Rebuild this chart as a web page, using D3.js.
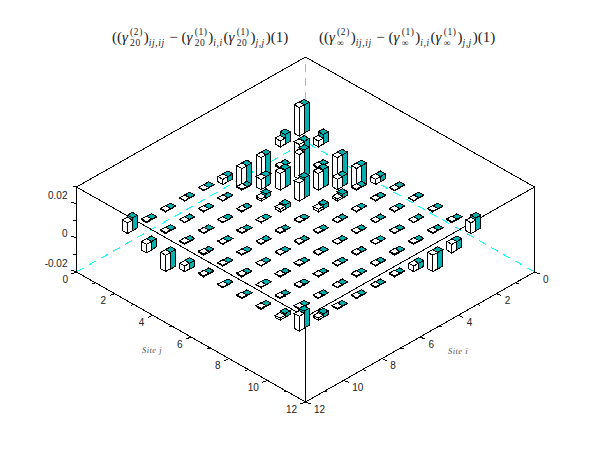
<!DOCTYPE html>
<html>
<head>
<meta charset="utf-8">
<script src="https://cdnjs.cloudflare.com/ajax/libs/d3/7.8.5/d3.min.js"></script>
<style>
  body { margin: 0; background: #fff; }
  text { font-family: "Liberation Sans", sans-serif; }
  .ticklabel { font-size: 10px; fill: #222; }
  .sitelabel { font-family: "Liberation Serif", serif; font-style: italic; font-size: 8.5px; fill: #555; letter-spacing: 0.5px; }
  .formula text { font-family: "Liberation Serif", serif; fill: #222; }
</style>
</head>
<body>
<svg id="chart" width="610" height="460"></svg>
<script>
// *** DATA ***
var sites = [1, 2, 3, 4, 5, 6, 7, 8, 9, 10];

// white bars, row = site i, column = site j
var gamma20 = [
  [ 0.0168,  0.0035, -0.0135, -0.0125, -0.0030, -0.0003,  0.0003,  0.0004,  0.0006,  0.0063],
  [ 0.0035,  0.0078,  0.0006, -0.0060,  0.0006,  0.0003,  0.0004,  0.0003,  0.0005, -0.0050],
  [-0.0135,  0.0006,  0.0145,  0.0098,  0.0012,  0.0004,  0.0003,  0.0004,  0.0006, -0.0096],
  [-0.0125, -0.0060,  0.0098,  0.0105,  0.0015,  0.0003,  0.0004,  0.0003,  0.0007, -0.0033],
  [-0.0030,  0.0006,  0.0012,  0.0015,  0.0004,  0.0005,  0.0003,  0.0005,  0.0004,  0.0006],
  [-0.0003,  0.0003,  0.0004,  0.0003,  0.0005,  0.0005,  0.0004,  0.0003,  0.0005,  0.0004],
  [ 0.0003,  0.0004,  0.0003,  0.0004,  0.0003,  0.0004,  0.0005,  0.0004,  0.0003,  0.0005],
  [ 0.0004,  0.0003,  0.0004,  0.0003,  0.0005,  0.0003,  0.0004,  0.0005,  0.0004,  0.0006],
  [ 0.0006,  0.0005,  0.0006,  0.0007,  0.0004,  0.0005,  0.0003,  0.0004,  0.0006,  0.0012],
  [ 0.0063, -0.0050, -0.0096, -0.0033,  0.0006,  0.0004,  0.0005,  0.0006,  0.0012,  0.0087]
];

// teal bars, same layout
var gammaInf = [
  [ 0.0165,  0.0056, -0.0140, -0.0125, -0.0030, -0.0002,  0.0002,  0.0002,  0.0003,  0.0075],
  [ 0.0056,  0.0080,  0.0003, -0.0058,  0.0003,  0.0002,  0.0002,  0.0002,  0.0003, -0.0048],
  [-0.0140,  0.0003,  0.0155,  0.0105,  0.0023,  0.0002,  0.0002,  0.0002,  0.0003, -0.0098],
  [-0.0125, -0.0058,  0.0105,  0.0118,  0.0023,  0.0002,  0.0002,  0.0002,  0.0003, -0.0035],
  [-0.0030,  0.0003,  0.0023,  0.0023,  0.0002,  0.0002,  0.0002,  0.0002,  0.0002,  0.0003],
  [-0.0002,  0.0002,  0.0002,  0.0002,  0.0002,  0.0002,  0.0002,  0.0002,  0.0002,  0.0002],
  [ 0.0002,  0.0002,  0.0002,  0.0002,  0.0002,  0.0002,  0.0002,  0.0002,  0.0002,  0.0002],
  [ 0.0002,  0.0002,  0.0002,  0.0002,  0.0002,  0.0002,  0.0002,  0.0002,  0.0002,  0.0003],
  [ 0.0003,  0.0003,  0.0003,  0.0003,  0.0002,  0.0002,  0.0002,  0.0002,  0.0003,  0.0021],
  [ 0.0075, -0.0048, -0.0098, -0.0035,  0.0003,  0.0002,  0.0002,  0.0003,  0.0021,  0.0100]
];

var siteMajorTicks = [0, 2, 4, 6, 8, 10, 12];
var siteMinorTicks = [1, 3, 5, 7, 9, 11];
var zMajorTicks = [-0.02, 0, 0.02];
var zMinorTicks = [-0.01, 0.01, 0.03];

// [text, kind]: n = roman, i = italic, sup / sub = scripts, a sup does not advance
var title20 = [["((", "n"], ["γ", "i"], ["(2)", "sup"], ["20", "sub"], [")", "n"], ["ij,ij", "sub"],
  [" − ", "n"], ["(", "n"], ["γ", "i"], ["(1)", "sup"], ["20", "sub"], [")", "n"], ["i,i", "sub"],
  ["(", "n"], ["γ", "i"], ["(1)", "sup"], ["20", "sub"], [")", "n"], ["j,j", "sub"], [")(1)", "n"]];
var titleInf = [["((", "n"], ["γ", "i"], ["(2)", "sup"], ["∞", "sub"], [")", "n"], ["ij,ij", "sub"],
  [" − ", "n"], ["(", "n"], ["γ", "i"], ["(1)", "sup"], ["∞", "sub"], [")", "n"], ["i,i", "sub"],
  ["(", "n"], ["γ", "i"], ["(1)", "sup"], ["∞", "sub"], [")", "n"], ["j,j", "sub"], [")(1)", "n"]];

// *** SVG STUFF ***
var svg = d3.select("#chart");
var teal = "#00b0b0";
var barSize = 0.26;
var barShift = -0.06; // the pair of bars sits a bit off the site position

// oblique projection of the scilab box
var xScale = d3.scaleLinear().domain([-12, 12]).range([76.5, 534.5]);
var yScale = d3.scaleLinear().domain([0, 24]).range([142, 402]);
var zScale = d3.scaleLinear().domain([-0.02, 0.03]).range([0, -85]);

function project(i, j, z) {
  return [xScale(j - i), yScale(i + j) + zScale(z)];
}

function segment(a, b, stroke) {
  return svg.append("line")
    .attr("x1", a[0]).attr("y1", a[1])
    .attr("x2", b[0]).attr("y2", b[1])
    .attr("stroke", stroke || "black")
    .attr("shape-rendering", "crispEdges");
}

var zLow = zScale.domain()[0];
var zHigh = zScale.domain()[1];

// hidden edges
[[[12, 0, zLow], [0, 0, zLow]], [[0, 12, zLow], [0, 0, zLow]], [[0, 0, zLow], [0, 0, zHigh]]]
  .forEach(function(e) {
    segment(project.apply(null, e[0]), project.apply(null, e[1]), "#00ffff")
      .attr("stroke-dasharray", "8,6");
  });

// visible edges
[
  [[12, 0, zHigh], [0, 0, zHigh]], [[0, 12, zHigh], [0, 0, zHigh]],
  [[12, 0, zHigh], [12, 12, zHigh]], [[0, 12, zHigh], [12, 12, zHigh]],
  [[12, 0, zLow], [12, 12, zLow]], [[0, 12, zLow], [12, 12, zLow]],
  [[12, 0, zLow], [12, 0, zHigh]], [[0, 12, zLow], [0, 12, zHigh]],
  [[12, 12, zLow], [12, 12, zHigh]]
].forEach(function(e) {
  segment(project.apply(null, e[0]), project.apply(null, e[1]));
});

// site j axis along the left edge, site i along the right one
function siteTicks(point, side, anchor) {
  siteMajorTicks.forEach(function(t) {
    var p = point(t);
    segment(p, [p[0] + side * 5, p[1] + 2]);
    svg.append("text").attr("class", "ticklabel")
      .attr("x", p[0] + side * 8.5).attr("y", p[1] + 10.5)
      .attr("text-anchor", anchor).text(t);
  });
  siteMinorTicks.forEach(function(t) {
    var p = point(t);
    segment(p, [p[0] + side * 3, p[1] + 1]);
  });
}
siteTicks(function(t) { return project(12, t, zLow); }, -1, "end");
siteTicks(function(t) { return project(t, 12, zLow); }, 1, "start");

zMajorTicks.forEach(function(t) {
  var p = project(12, 0, t);
  segment(p, [p[0] - 5, p[1] - 2]);
  // scilab pushes the zero label less than the others
  svg.append("text").attr("class", "ticklabel")
    .attr("x", p[0] - 9).attr("y", p[1] + (t === 0 ? -1.5 : -5.5))
    .attr("text-anchor", "end").text(t);
});
zMinorTicks.forEach(function(t) {
  var p = project(12, 0, t);
  segment(p, [p[0] - 3, p[1] - 1]);
});

svg.append("text").attr("class", "sitelabel").attr("x", 152).attr("y", 353)
  .attr("text-anchor", "middle").text("Site j");
svg.append("text").attr("class", "sitelabel").attr("x", 458).attr("y", 354)
  .attr("text-anchor", "middle").text("Site i");

// --- Bars ---
var bars = [];
sites.forEach(function(si, r) {
  sites.forEach(function(sj, c) {
    var i0 = si + barShift;
    bars.push({ i0: i0, i1: i0 + barSize, j0: sj - barSize / 2, j1: sj + barSize / 2, z: gammaInf[r][c], fill: teal });
    bars.push({ i0: i0 + barSize, i1: i0 + 2 * barSize, j0: sj - barSize / 2, j1: sj + barSize / 2, z: gamma20[r][c], fill: "white" });
  });
});
bars.sort(function(a, b) { return (a.i0 + a.j0) - (b.i0 + b.j0); });

function polygon(points) {
  return "M" + points.map(function(p) { return p.join(","); }).join("L") + "Z";
}

function barFaces(d) {
  var top = Math.max(0, d.z);
  var bottom = Math.min(0, d.z);
  return [
    [[d.i0, d.j0, top], [d.i0, d.j1, top], [d.i1, d.j1, top], [d.i1, d.j0, top]],
    [[d.i1, d.j0, top], [d.i1, d.j1, top], [d.i1, d.j1, bottom], [d.i1, d.j0, bottom]],
    [[d.i1, d.j1, top], [d.i0, d.j1, top], [d.i0, d.j1, bottom], [d.i1, d.j1, bottom]]
  ];
}

svg.append("g").selectAll("g")
  .data(bars)
  .enter()
    .append("g")
    .attr("fill", function(d) { return d.fill; })
    .selectAll("path")
    .data(barFaces)
    .enter()
      .append("path")
      .attr("d", function(face) {
        return polygon(face.map(function(c) { return project(c[0], c[1], c[2]); }));
      })
      .attr("stroke", "black")
      .attr("shape-rendering", "crispEdges");

// --- Titles ---
function drawFormula(parts, startX, baseline) {
  var g = svg.append("g").attr("class", "formula");
  var x = startX;
  var supWidth = 0;
  parts.forEach(function(p) {
    var kind = p[1];
    var script = kind === "sup" || kind === "sub";
    var el = g.append("text")
      .attr("xml:space", "preserve")
      .style("white-space", "pre")
      .attr("x", x)
      .attr("y", baseline + (kind === "sup" ? -7 : kind === "sub" ? 3.5 : 0))
      .attr("font-size", script ? 9.5 : 15)
      .attr("letter-spacing", script ? 0.6 : 0)
      .attr("font-style", kind === "i" || p[0].indexOf("j") >= 0 || p[0] === "i,i" ? "italic" : "normal")
      .text(p[0]);
    var w = el.node().getComputedTextLength();
    if (kind === "sup") {
      supWidth = w;
      return;
    }
    // gap after a gamma, scripts stack so the wider one counts
    x += Math.max(w, supWidth) + (kind === "i" ? 2.2 : kind === "sub" ? 0.8 : 0);
    supWidth = 0;
  });
}
drawFormula(title20, 112, 42);
drawFormula(titleInf, 319, 42);
</script>
</body>
</html>
